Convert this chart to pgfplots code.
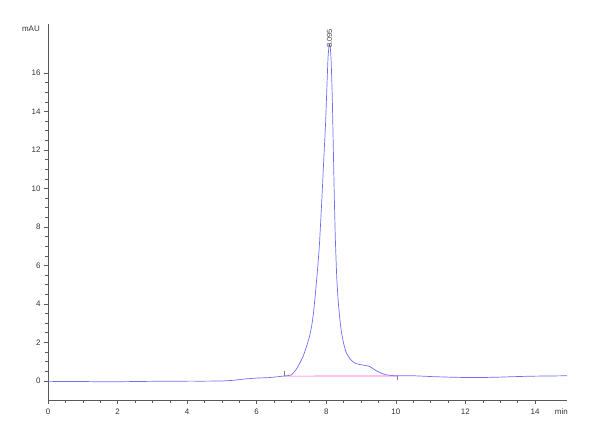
\documentclass[border=0pt]{standalone}
\usepackage{fontspec}
\setmainfont{Liberation Sans}
\usepackage{pgfplots}
\pgfplotsset{compat=1.18}
\definecolor{trace}{RGB}{110,110,245}
\definecolor{basel}{RGB}{250,80,225}
\definecolor{axgray}{RGB}{90,90,90}
\begin{document}
\begin{tikzpicture}[x=1bp,y=1bp]
\useasboundingbox (-48bp,-40bp) rectangle (552bp,400bp);
\begin{axis}[
  at={(0,0)}, anchor=south west,
  scale only axis, width=519bp, height=376bp,
  xmin=0, xmax=14.92, ymin=-1, ymax=18.55,
  axis lines*=left,
  axis line style={axgray, line width=0.6pt},
  tick align=outside,
  xtick={0,2,...,14}, ytick={0,2,...,16},
  minor x tick num=3, minor y tick num=3,
  major tick length=4bp, minor tick length=2.7bp,
  tick style={axgray, line width=0.5pt},
  ticklabel style={font=\fontsize{8}{9}\selectfont, text=black!80},
  /pgf/number format/assume math mode=true,
  xticklabel style={yshift=-1bp},
  clip=false,
]
\addplot[trace, line width=0.7pt, smooth, tension=0.3] coordinates {
(0,-0.03) (0.5,-0.04) (1,-0.04) (1.5,-0.05) (2,-0.05) (2.5,-0.04) (3,-0.03) (3.5,-0.03) (4,-0.02) (4.5,-0.02) (5,-0.01)
(5.3,0.02) (5.5,0.06) (5.7,0.1) (6.0,0.14) (6.3,0.16) (6.5,0.19) (6.75,0.24) (6.9,0.27)
(7.0,0.31) (7.12,0.55) (7.24,0.92) (7.34,1.3) (7.43,1.78) (7.51,2.25) (7.58,2.85) (7.63,3.5)
(7.67,4.2) (7.74,5.6) (7.80,7.0) (7.84,8.3) (7.88,9.7) (7.93,11.6) (7.98,13.4) (8.02,15.4)
(8.05,16.8) (8.075,17.35) (8.095,17.5) (8.115,17.35) (8.14,16.6) (8.17,14.9) (8.2,12.3)
(8.23,9.6) (8.26,7.4) (8.30,5.4) (8.34,4.2) (8.39,3.2) (8.44,2.48) (8.51,1.85) (8.58,1.44)
(8.7,1.1) (8.82,0.92) (8.95,0.85) (9.11,0.80) (9.25,0.74) (9.35,0.62) (9.48,0.48)
(9.6,0.38) (9.72,0.31) (9.85,0.28) (10.0,0.26) (10.5,0.26) (11.0,0.22) (11.5,0.19) (12.0,0.17)
(12.5,0.17) (13.0,0.19) (13.5,0.22) (14.0,0.24) (14.5,0.25) (14.92,0.26)
};
\addplot[basel, line width=0.7pt] coordinates {(6.78,0.24) (10.05,0.25)};
\addplot[gray, line width=0.5pt] coordinates {(6.78,0.24) (6.78,0.5)};
\addplot[gray, line width=0.5pt] coordinates {(10.05,0.25) (10.05,0.02)};
\node[rotate=90, anchor=west, inner sep=0pt, text=black!75, font=\fontsize{7.5}{8}\selectfont] at (axis cs:8.095,17.3) {8.095};
\node[anchor=east, inner sep=0pt, text=black!80, font=\fontsize{8}{9}\selectfont] at (rel axis cs:0,1) [xshift=-8bp, yshift=-5bp] {mAU};
\node[anchor=east, inner sep=0pt, text=black!80, font=\fontsize{8}{9}\selectfont] at (rel axis cs:1,0) [xshift=1bp, yshift=-12bp] {min};
\end{axis}
\end{tikzpicture}
\end{document}
